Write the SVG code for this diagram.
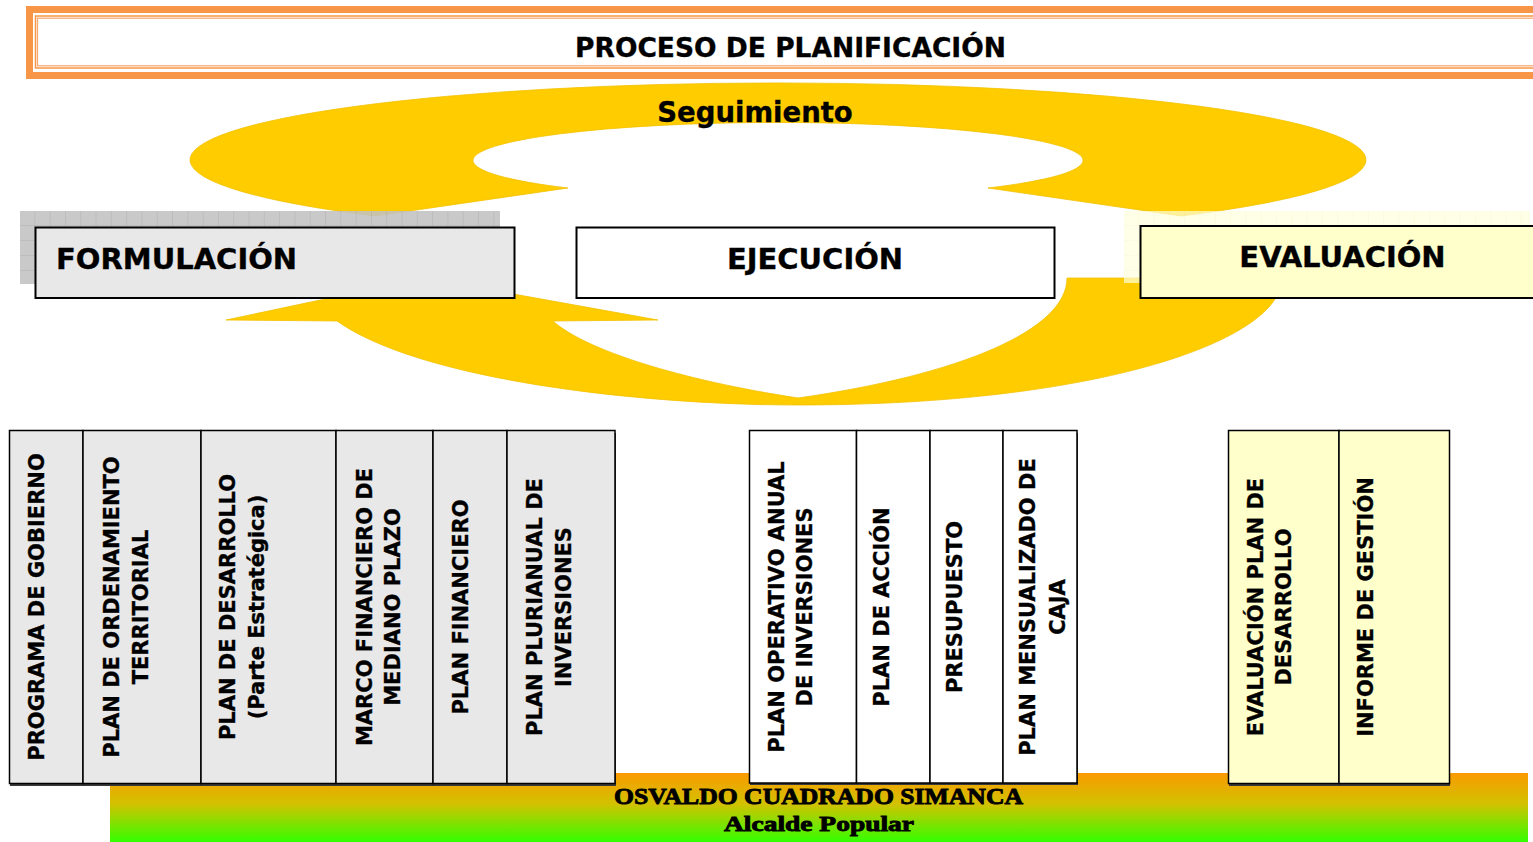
<svg xmlns="http://www.w3.org/2000/svg" width="1533" height="842" viewBox="0 0 1533 842">
<defs>
<style>
.t{font-family:"DejaVu Sans","Verdana",sans-serif;font-weight:bold;fill:#000;stroke:#000;stroke-width:0.35}
.v{font-size:21px;text-anchor:middle}
.h{font-size:29px}
.col{stroke:#000;stroke-width:1.5}
.ring{fill:#FFCC00;stroke:#F2C200;stroke-width:0.8}
.ft{font-family:"Liberation Serif","Times New Roman",serif;font-weight:bold;fill:#000;stroke:#000;stroke-width:0.9;text-anchor:middle}
</style>
<pattern id="gridG" x="20" y="211" width="15.3" height="15" patternUnits="userSpaceOnUse">
<rect width="15.3" height="15" fill="#C2C2C2"/>
<path d="M15.3 0V15M0 15H15.3" stroke="#A6A6A6" stroke-width="1" fill="none"/>
</pattern>
<pattern id="gridY" x="1124" y="211" width="15.3" height="15" patternUnits="userSpaceOnUse">
<rect width="15.3" height="15" fill="#FFFFDC"/>
<path d="M15.3 0V15M0 15H15.3" stroke="#F6F3C8" stroke-width="1" fill="none"/>
</pattern>
<linearGradient id="foot" x1="0" y1="0" x2="0" y2="1">
<stop offset="0" stop-color="#FA9A00"/>
<stop offset="0.45" stop-color="#D2C200"/>
<stop offset="1" stop-color="#33FF00"/>
</linearGradient>
</defs>

<!-- Title -->
<g id="title">
<rect x="29.5" y="9.5" width="1530" height="66" fill="#fff" stroke="#F79646" stroke-width="7"/>
<rect x="35.5" y="16" width="1520" height="52" fill="none" stroke="#F79646" stroke-width="1.5"/>
<rect x="37.5" y="18.2" width="1520" height="47.6" fill="none" stroke="#F9A66A" stroke-width="1.2"/>
<text class="t" x="790.5" y="57" font-size="26.5" text-anchor="middle">PROCESO DE PLANIFICACIÓN</text>
</g>

<!-- Footer -->
<g id="footer">
<rect x="110" y="773" width="1418" height="69" fill="url(#foot)"/>
<text class="ft" x="818.5" y="804" font-size="24" textLength="409" lengthAdjust="spacingAndGlyphs">OSVALDO CUADRADO SIMANCA</text>
<text class="ft" x="819" y="831" font-size="22" textLength="190" lengthAdjust="spacingAndGlyphs">Alcalde Popular</text>
</g>

<!-- Cycle arrows -->
<g id="connectors">
<path id="seguimiento-arrow" class="ring" d="M375,216 L568,188 A305 38 0 1 1 988,188 L1181,216 A588 77 0 1 0 375,216 Z"/>
<path id="ciclo-arrow" class="ring" d="M1067,278 L1282,278 C1282,340 1100,405 798,405 C640,405 420,380 337,321 L226,320 L424,278 L658,320 L553,321 C585,350 680,380 798,398 C960,375 1067,330 1067,278 Z"/>
<text class="t" x="755" y="122" font-size="27.5" text-anchor="middle">Seguimiento</text>
</g>

<!-- Phase boxes -->
<g id="formulacion">
<rect x="20" y="211" width="480" height="73" fill="url(#gridG)" opacity="0.88"/>
<rect x="35.5" y="227.5" width="479" height="70.5" fill="#E8E8E8" stroke="#000" stroke-width="2"/>
<text class="t h" x="56" y="269">FORMULACIÓN</text>
</g>
<g id="ejecucion">
<rect x="576.5" y="227.5" width="478" height="70.5" fill="#fff" stroke="#000" stroke-width="2"/>
<text class="t h" x="815" y="268.5" text-anchor="middle">EJECUCIÓN</text>
</g>
<g id="evaluacion">
<rect x="1124" y="211" width="406" height="72" fill="url(#gridY)" opacity="0.7"/>
<rect x="1140.5" y="226" width="1400" height="72" fill="#FFFFCC" stroke="#000" stroke-width="2"/>
<text class="t h" x="1342.5" y="267" text-anchor="middle">EVALUACIÓN</text>
</g>

<!-- Column shadows -->
<rect x="10" y="433" width="606" height="353" fill="#3a3a3a"/>
<rect x="750" y="433" width="328" height="352" fill="#3a3a3a"/>
<rect x="1229" y="433" width="221" height="353" fill="#3a3a3a"/>

<!-- Formulación columns -->
<g id="programa-gobierno">
<rect class="col" x="9.5" y="430.5" width="73.5" height="353" fill="#E8E8E8"/>
<text class="t v" transform="translate(44,607) rotate(-90)">PROGRAMA DE GOBIERNO</text>
</g>
<g id="plan-ordenamiento">
<rect class="col" x="83" y="430.5" width="118" height="353" fill="#E8E8E8"/>
<text class="t v" transform="translate(118.5,607) rotate(-90)">PLAN DE ORDENAMIENTO</text>
<text class="t v" transform="translate(148,607) rotate(-90)">TERRITORIAL</text>
</g>
<g id="plan-desarrollo">
<rect class="col" x="201" y="430.5" width="135" height="353" fill="#E8E8E8"/>
<text class="t v" transform="translate(235,607) rotate(-90)">PLAN DE DESARROLLO</text>
<text class="t v" transform="translate(264,607) rotate(-90)">(Parte Estratégica)</text>
</g>
<g id="marco-financiero">
<rect class="col" x="336" y="430.5" width="97" height="353" fill="#E8E8E8"/>
<text class="t v" transform="translate(371.5,607) rotate(-90)">MARCO FINANCIERO DE</text>
<text class="t v" transform="translate(399.5,607) rotate(-90)">MEDIANO PLAZO</text>
</g>
<g id="plan-financiero">
<rect class="col" x="433" y="430.5" width="74" height="353" fill="#E8E8E8"/>
<text class="t v" transform="translate(468,607) rotate(-90)">PLAN FINANCIERO</text>
</g>
<g id="plan-plurianual">
<rect class="col" x="507" y="430.5" width="108" height="353" fill="#E8E8E8"/>
<text class="t v" transform="translate(541.5,607) rotate(-90)">PLAN PLURIANUAL DE</text>
<text class="t v" transform="translate(571,607) rotate(-90)">INVERSIONES</text>
</g>

<!-- Ejecución columns -->
<g id="plan-operativo">
<rect class="col" x="749.5" y="430.5" width="107" height="352.5" fill="#fff"/>
<text class="t v" transform="translate(783.5,607) rotate(-90)">PLAN OPERATIVO ANUAL</text>
<text class="t v" transform="translate(811.5,607) rotate(-90)">DE INVERSIONES</text>
</g>
<g id="plan-accion">
<rect class="col" x="856.5" y="430.5" width="73.5" height="352.5" fill="#fff"/>
<text class="t v" transform="translate(888.5,607) rotate(-90)">PLAN DE ACCIÓN</text>
</g>
<g id="presupuesto">
<rect class="col" x="930" y="430.5" width="73" height="352.5" fill="#fff"/>
<text class="t v" transform="translate(962,607) rotate(-90)">PRESUPUESTO</text>
</g>
<g id="plan-mensualizado">
<rect class="col" x="1003" y="430.5" width="74" height="352.5" fill="#fff"/>
<text class="t v" transform="translate(1035,607) rotate(-90)">PLAN MENSUALIZADO DE</text>
<text class="t v" transform="translate(1065,607) rotate(-90)">CAJA</text>
</g>

<!-- Evaluación columns -->
<g id="evaluacion-plan">
<rect class="col" x="1228.5" y="430.5" width="110.5" height="353" fill="#FFFFCC"/>
<text class="t v" transform="translate(1262.5,607) rotate(-90)">EVALUACIÓN PLAN DE</text>
<text class="t v" transform="translate(1291,607) rotate(-90)">DESARROLLO</text>
</g>
<g id="informe-gestion">
<rect class="col" x="1339" y="430.5" width="110.5" height="353" fill="#FFFFCC"/>
<text class="t v" transform="translate(1373,607) rotate(-90)">INFORME DE GESTIÓN</text>
</g>
</svg>
